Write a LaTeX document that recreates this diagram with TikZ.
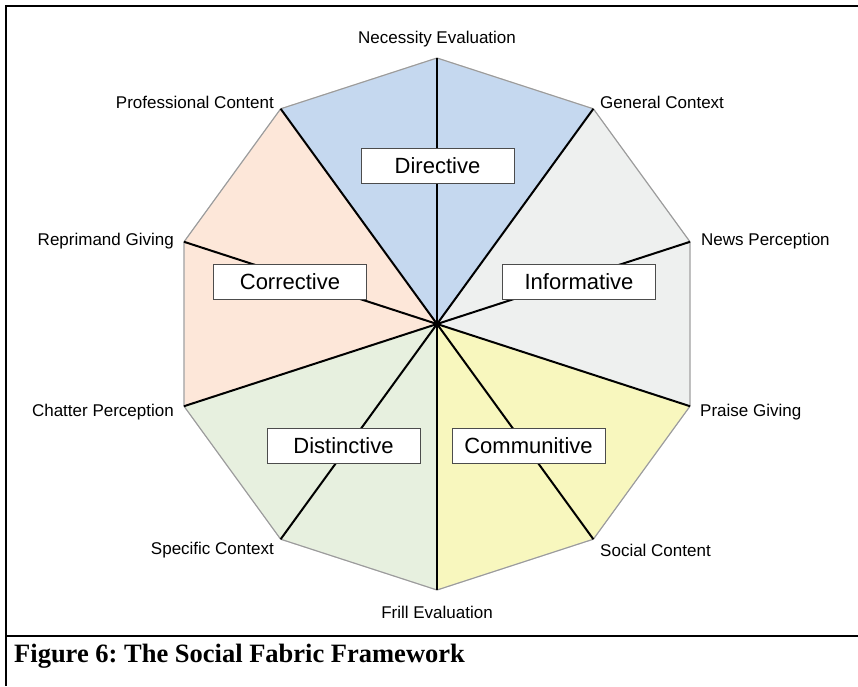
\documentclass[tikz,border=0pt]{standalone}
\usepackage{fontspec}
\setmainfont{Liberation Sans}
\newfontfamily\capfont{Liberation Serif}
\frenchspacing
\definecolor{secblue}{HTML}{C5D8EF}
\definecolor{secgray}{HTML}{EEF0EF}
\definecolor{secyellow}{HTML}{F8F7BE}
\definecolor{secgreen}{HTML}{E7F0DF}
\definecolor{secorange}{HTML}{FDE7D9}
\definecolor{edgegray}{HTML}{9A9A9A}
\tikzset{
  spoke/.style={line width=2pt, black},
  rim/.style={line width=0.9pt, edgegray},
  frameline/.style={line width=2pt, black},
  catbox/.style={draw=black!70, line width=1pt, fill=white, minimum width=153pt, minimum height=35pt, inner sep=0pt, font=\fontsize{22}{24}\selectfont},
  lab/.style={font=\fontsize{17}{20}\selectfont, inner sep=0pt}
}
\begin{document}
\begin{tikzpicture}[x=1pt,y=-1pt]
\useasboundingbox (0,0) rectangle (858,686);
\coordinate (c) at (437,324);
\foreach \k in {0,...,9}{
  \coordinate (v\k) at ({437+266*cos(90-36*\k)},{324-266*sin(90-36*\k)});
}
% sectors
\fill[secblue] (c) -- (v9) -- (v0) -- (v1) -- cycle;
\fill[secgray] (c) -- (v1) -- (v2) -- (v3) -- cycle;
\fill[secyellow] (c) -- (v3) -- (v4) -- (v5) -- cycle;
\fill[secgreen] (c) -- (v5) -- (v6) -- (v7) -- cycle;
\fill[secorange] (c) -- (v7) -- (v8) -- (v9) -- cycle;
% rim shadow and rim
\draw[line width=1.2pt, black!25, shift={(1.2,1.5)}] (v0) -- (v1) -- (v2) -- (v3) -- (v4) -- (v5) -- (v6) -- (v7) -- (v8) -- (v9) -- cycle;
\draw[rim] (v0) -- (v1) -- (v2) -- (v3) -- (v4) -- (v5) -- (v6) -- (v7) -- (v8) -- (v9) -- cycle;
% spokes
\foreach \k in {0,...,9}{ \draw[spoke] (c) -- (v\k); }
% category boxes
\node[catbox] (dir) at (437.5,166) {\raisebox{-1pt}{Directive}};
\node[catbox] (cor) at (290,281.5) {\raisebox{-1pt}{Corrective}};
\node[catbox] (inf) at (579,281.5) {\raisebox{-1pt}{Informative}};
\node[catbox] (dis) at (343.5,445.5) {\raisebox{-1pt}{Distinctive}};
\node[catbox] (com) at (528.5,445.5) {\raisebox{-1pt}{Communitive}};
% vertex labels
\node[lab] (l0) at (437,39.5) {Necessity Evaluation};
\node[lab, anchor=west] (l1) at (600,102.5) {General Context};
\node[lab, anchor=west] (l2) at (701,241.5) {News Perception};
\node[lab, anchor=west] (l3) at (700,412.5) {Praise Giving};
\node[lab, anchor=west] (l4) at (600,550) {Social Content};
\node[lab] (l5) at (437,612) {Frill Evaluation};
\node[lab, anchor=east] (l6) at (274,550.5) {Specific Context};
\node[lab, anchor=east] (l7) at (174,412.5) {Chatter Perception};
\node[lab, anchor=east] (l8) at (174,241.5) {Reprimand Giving};
\node[lab, anchor=east] (l9) at (274,102.5) {Professional Content};
% frame
\draw[frameline] (858,6) -- (6,6) -- (6,686);
\draw[frameline] (6,636) -- (858,636);
\node[anchor=west, inner sep=0pt, font=\capfont\bfseries\fontsize{26.5}{28}\selectfont] (cap) at (14,656) {Figure 6: The Social Fabric Framework};
\end{tikzpicture}
\end{document}
